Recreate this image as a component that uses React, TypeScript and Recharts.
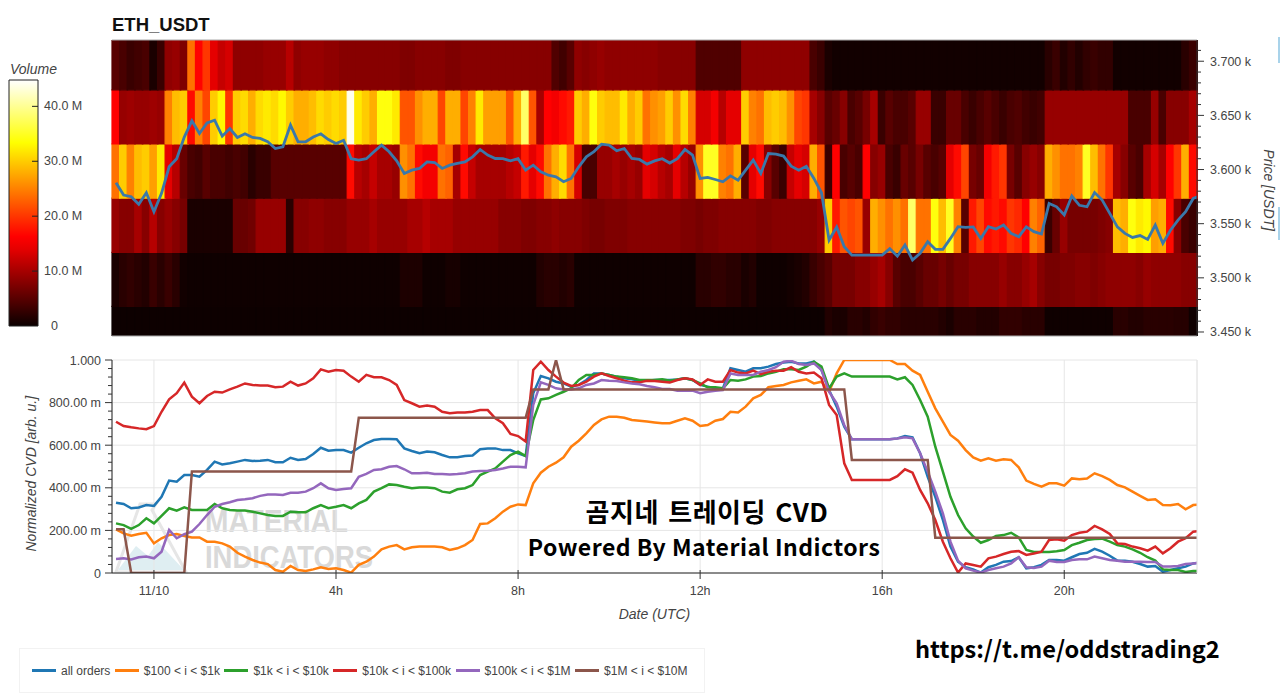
import React from "react";
import {
  Bar,
  BarChart,
  CartesianGrid,
  Cell,
  ComposedChart,
  Legend,
  Line,
  LineChart,
  ReferenceLine,
  XAxis,
  YAxis,
} from "recharts";

const FONT = "'Liberation Sans', Arial, sans-serif";
const TEXT = "#444";

// price bin edges of the heatmap, bottom to top (USDT)
const bandEdges = [3446.3, 3473.6, 3523.6, 3573.6, 3623.6, 3673.6, 3719.6];

// volume per 10 min column and price bin, in millions
const volBand0 = [
  .2,.2,.2,.2,.2,.2,.2,.2,.2,.2,
  .2,.2,.2,.2,.2,.2,.2,.2,.2,.2,
  .2,.2,.2,.2,.2,.2,.2,.2,.2,.2,
  .2,.2,.2,.2,.2,.2,.2,.2,.2,.2,
  .2,.2,.2,.2,.2,.2,.2,.2,.2,.2,
  .2,.2,.2,.2,.2,.2,.2,.2,.2,.2,
  .2,.2,.2,.2,.2,.2,.2,.2,.2,.2,
  .2,.2,.2,.2,.2,.2,.2,.2,.2,.2,
  .2,.2,.2,.2,.2,.2,.2,.2,.2,.2,
  .2,.2,.2,.2,1.5,1,1,2,2,1.5,
  2.5,3,2.5,2.5,2,2,2,2,2,1.5,
  1,2,2,2,1.5,1.5,1.5,2.5,2.5,2.5,
  2,2,2,.3,.3,.3,.3,.3,.3,.3,
  .3,.3,2,2,1.5,1.5,2,2,2,2,
  1.8,1.8,.3,
];
const volBand1 = [
  1,2,2.5,2,1.5,3,2,3,2,.5,
  .3,.3,.3,.3,.3,.3,.3,.3,.3,.3,
  .3,.3,.3,.3,.3,.3,.3,.3,.3,.3,
  .3,.3,.3,.3,.3,.3,.3,.3,1.2,1.2,
  1.2,.3,.3,.3,.8,.8,.3,.3,.3,.3,
  .3,.3,.3,.3,.3,.3,1.5,2,2,1.5,
  2,.3,.3,.3,.3,.3,.3,.3,.3,.3,
  .3,.3,.3,.3,.3,.3,.3,2,2,2.5,
  2.5,2,2,1,1.5,.3,.3,.3,.3,.6,
  1,1.5,3,4,5,7,7,7,8,8,
  9,10,8,5,4,4,5,6,6,7,
  6,7,7,8,8,8,8,9,8,8,
  9,10,8,7,7,7.5,7.5,8,8,7.5,
  8,8.5,8.5,8.5,8.5,8,9,8.5,8.5,8.5,
  8.5,8,8,
];
const volBand2 = [
  9,8,8,10,8,11,8,9,8,7,
  1,1,1,1,1,1,6,6,6.5,9,
  9,9,9,2,8,8,8.5,8.5,8,8,
  8,9,9,9,10,9,9,9,9,10,
  10,11,10,10,10,9,9,9,9,9,
  9,8,8,8,7.5,7.5,8,8,8.5,8,
  8,8,7.5,7,7,7.5,7.5,7.5,8,8,
  8,8,8,8,8,7.5,7.5,7,7.5,7.5,
  8,8,8,8,8,7.5,7.5,8,8,8,
  8,8,8,9,30,18,22,21,22,9,
  28,26,24,26,24,38,24,24,34,29,
  35,25,5,18,21,17,18,17,20,19,
  16,25,23,3,6,9,7,7,7,7,
  7.5,8,29,28,34,32,33,27,28,17,
  8,4,3,
];
const volBand3 = [
  24,30,25,29,30,27,32,14,11,6,
  4,3.5,5,4,4,3.5,4,3.5,2,3,
  3,5,5,5,5,5,5,5,5,5,
  5,17,11,10,12,10,10,9,26,24,
  17,15,15,24,23,10,17,12,10,10,
  10,10,11,12,18,14,17,24,28,31,
  24,13,4,4,9,9,10,9,10,9,
  14,13,11,10,14,11,9,26,35,35,
  25,24,28,5,14,17,8,5,3,12,
  14,13,28,22,3,16,4,5,4,16,
  8,9,4,3,6,5,7,5,4,5,
  14,17,21,7,6,15,18,20,7,5,
  8,9,8,28,26,24,24,25,35,29,
  24,20,10,8,5,4,10,13,10,16,
  20,28,17,
];
const volBand4 = [
  16,9,9.5,9,9,9.5,9,25,29,30,
  17,25,21,30,33,20,30,31,28,31,
  32,31,33,30,28,28,29,31,30,31,
  30,44,32,30,28,34,34,32,22,22,
  26,28,28,21,28,28,21,25,32,27,
  27,27,22,28,38,22,10,16,15,17,
  18,30,28,34,30,29,29,32,28,30,
  24,26,27,30,26,31,25,13,13,15,
  11,14,14,30,25,24,29,30,29,26,
  21,20,10,8,5,6,8,4,5,7,
  10,3,5,4,4,5,9,9,3,3,
  6,6,4,3,4,5,4,3,4,4.5,
  3.5,3,3.5,9,9,9,9,9,9,9,
  9,9,9,9,4,4,4,9,4,8,
  8,8,10,
];
const volBand5 = [
  5,4,3,3.5,4,1,3,8.5,9,7.5,
  24,16.5,20,14,12,13,8.5,8.5,8.5,8.5,
  9,9,9,11,8.5,9,9,9,8.5,8.5,
  8,8,8,8,8,8,8,8,7.5,7.5,
  8,8,8,8,7.5,7.5,8,8,8,8,
  8,8,8,8,8,8,8,8,4.5,3.5,
  5,8.5,8,8.5,9,8.5,8.5,8.5,8.5,8.5,
  8.5,8.5,8,8,8,8,8,4.5,4.5,4.5,
  4.5,4.5,4.5,8.5,8.5,8.5,8.5,8.5,8.5,8.5,
  8.5,8.5,4,3,1,.5,.5,.5,.5,.5,
  .5,.5,.5,.5,.5,.5,.5,.5,.5,.5,
  .5,.5,.5,.5,.5,.5,.5,.5,.5,.5,
  .5,.5,.5,2,3,1.5,2.5,1.5,2.5,3,
  2.5,2.5,.5,.5,.5,.5,.5,.5,.5,.5,
  .5,2,3,
];
const volumeBands = [volBand0, volBand1, volBand2, volBand3, volBand4, volBand5];

const price = [
  3587.8,3576.4,3574.9,3568,3578.5,3561,3578,3602.5,3610,3630,
  3645,3633.3,3643,3645.6,3630.8,3637.9,3629.6,3633,3629.6,3628.7,
  3625.6,3619.4,3621,3641,3625.6,3625.6,3630,3633,3627.7,3624,
  3627,3610,3608.7,3610,3616.4,3622.5,3616.4,3608,3596.4,3599.4,
  3601,3607,3606.5,3601,3604,3605.6,3607,3611.7,3618.5,3613.3,
  3610.2,3610,3608,3610,3599.4,3604,3598,3594.8,3593.3,3588.7,
  3591.8,3602.5,3611.7,3616.4,3623.4,3622.5,3617.3,3619.4,3610.2,3609.3,
  3605,3608,3610,3606,3610,3618.5,3613.3,3591.8,3592.7,3590.8,
  3588.7,3594.2,3590.2,3599.4,3608.7,3596.4,3614.8,3614.2,3612.4,3603.1,
  3599.4,3603,3591.8,3578.5,3534.9,3547,3528.7,3521,3521,3521,
  3521,3521,3527,3520,3530.3,3516.4,3522.6,3533.3,3526.3,3526.3,
  3536.4,3547.2,3546.6,3547,3536.4,3547.2,3545,3548.7,3541,3538,
  3547,3542.6,3540.4,3568.7,3565.6,3558,3575.5,3567,3565.6,3578.8,
  3571.8,3559.5,3547,3541,3537.3,3539,3535.5,3548.7,3531.8,3544,
  3553.3,3561,3573.3,3575.8,
];

// normalized CVD per size class, in milli units
const allOrders = [
  330,324,304,308,319,315,358,434,429,460,
  460,452,484,523,510,515,523,531,526,527,
  531,520,520,541,531,535,559,588,574,577,
  577,565,588,609,624,629,629,628,585,573,
  562,570,567,554,543,543,549,552,581,585,
  585,577,577,562,549,844,925,914,898,890,
  875,883,906,937,937,930,922,914,909,903,
  903,906,906,906,909,914,906,883,875,867,
  867,961,953,945,961,961,969,981,988,992,
  984,984,992,953,859,781,687,628,628,628,
  628,628,628,632,643,637,562,452,358,249,
  124,53,27,17,2,27,38,53,56,74,
  22,27,38,61,61,58,74,89,95,113,
  100,81,58,58,53,42,30,33,6,14,
  22,30,45,48,
];
const orders100to1k = [
  205,186,175,183,189,139,163,178,183,174,
  167,167,147,147,139,124,95,77,61,49,
  42,14,6,33,14,9,17,27,19,22,
  14,2,38,53,77,111,124,131,111,121,
  124,124,124,121,108,116,131,155,230,233,
  257,288,311,322,319,421,471,499,518,543,
  593,621,656,695,721,734,734,729,718,715,
  711,707,703,703,715,726,715,690,695,715,
  723,757,754,781,820,836,872,878,883,895,
  903,909,890,898,851,937,1000,1000,1000,1000,
  1000,1000,1000,981,981,950,930,851,773,711,
  648,621,577,543,527,538,527,534,531,496,
  434,418,405,421,421,410,444,440,444,468,
  455,437,413,402,382,362,343,346,319,318,
  324,299,319,322,
];
const orders1kto10k = [
  233,225,207,225,257,233,268,304,293,308,
  296,296,296,324,304,296,293,293,288,280,
  272,268,268,288,285,285,304,319,304,311,
  319,304,327,343,382,398,416,413,405,398,
  401,401,398,382,377,393,398,413,460,476,
  491,523,554,570,549,718,815,820,836,851,
  867,906,930,930,937,930,922,919,914,906,
  906,906,909,903,909,914,906,890,872,872,
  867,906,903,909,922,925,937,945,956,956,
  953,969,992,969,867,922,937,922,922,922,
  922,922,922,909,919,883,812,734,593,476,
  358,272,210,171,142,155,174,178,189,167,
  108,99,99,99,102,108,131,142,155,160,
  161,147,131,124,111,95,74,58,17,14,
  14,5,9,9,
];
const orders10kto100k = [
  710,690,684,679,675,690,757,815,844,894,
  828,797,831,851,847,862,875,890,883,880,
  880,872,875,898,880,890,914,956,945,953,
  950,922,898,930,919,919,906,883,812,797,
  781,786,781,757,750,753,753,757,765,765,
  726,703,653,643,617,953,992,953,922,894,
  878,883,898,922,937,925,914,903,895,895,
  903,901,898,894,906,914,909,883,909,898,
  898,953,941,937,950,934,945,950,950,966,
  945,937,941,914,789,742,515,437,437,437,
  437,437,437,455,487,471,390,327,249,147,
  69,2,45,38,30,69,77,89,100,103,
  85,92,100,155,158,152,178,189,194,221,
  205,183,139,136,124,116,105,124,92,116,
  147,163,194,197,
];
const orders100kto1m = [
  66,69,64,74,77,69,100,202,163,182,
  194,230,272,311,324,332,343,346,351,362,
  369,369,366,377,377,382,398,421,398,390,
  394,398,452,465,484,487,499,502,487,468,
  468,471,465,465,463,465,468,476,479,480,
  484,491,499,499,496,789,895,883,867,862,
  862,867,883,890,906,903,901,895,890,886,
  878,872,864,864,856,856,856,844,851,856,
  859,937,930,930,930,945,953,966,992,997,
  981,977,984,953,851,797,695,628,628,628,
  628,628,628,631,637,632,562,476,382,280,
  147,58,22,11,2,14,22,30,45,74,
  27,23,30,58,52,52,61,64,64,77,
  69,61,58,53,53,53,52,52,30,30,
  33,42,45,48,
];
const orders1mto10m = [
  205,205,0,0,0,0,0,0,0,0,
  476,476,476,476,476,476,476,476,476,476,
  476,476,476,476,476,476,476,476,476,476,
  476,476,729,729,729,729,729,729,729,729,
  729,729,729,729,729,729,729,729,729,729,
  729,729,729,729,729,862,862,862,1000,862,
  862,862,862,862,862,862,862,862,862,862,
  862,862,862,862,862,862,862,862,862,862,
  862,862,862,862,862,862,862,862,862,862,
  862,862,862,862,862,862,862,531,531,531,
  531,531,531,531,531,531,531,531,166,166,
  166,166,166,166,166,166,166,166,166,166,
  166,166,166,166,166,166,166,166,166,166,
  166,166,166,166,166,166,166,166,166,166,
  166,166,166,166,
];

const cvdSeries = [
  { key: "all", name: "all orders", color: "#1f77b4", values: allOrders },
  { key: "o100", name: "$100 < i < $1k", color: "#ff7f0e", values: orders100to1k },
  { key: "o1k", name: "$1k < i < $10k", color: "#2ca02c", values: orders1kto10k },
  { key: "o10k", name: "$10k < i < $100k", color: "#d62728", values: orders10kto100k },
  { key: "o100k", name: "$100k < i < $1M", color: "#9467bd", values: orders100kto1m },
  { key: "o1m", name: "$1M < i < $10M", color: "#8c564b", values: orders1mto10m },
];

const timeDomain = [-0.53, 142.5];
const timeTickIndexes = [5, 29, 53, 77, 101, 125];
const timeTickLabels = ["11/10", "4h", "8h", "12h", "16h", "20h"];
const cvdTicks = [0,40,80,120,160,200,240,280,320,360,400,440,480,520,560,600,640,680,720,760,800,840,880,920,960,1000];
const cvdMajor = [0, 200, 400, 600, 800, 1000];
const priceTicks = [3450,3460,3470,3480,3490,3500,3510,3520,3530,3540,3550,3560,3570,3580,3590,3600,3610,3620,3630,3640,3650,3660,3670,3680,3690,3700,3710];
const volumeTicks = [0, 10, 20, 30, 40];
const VOLUME_MAX = 44.8;

// matplotlib/bokeh "hot" palette
const hotColor = (v: number) => {
  const t = v / VOLUME_MAX;
  const clamp = (n: number) => Math.round(255 * Math.max(0, Math.min(1, n)));
  return `rgb(${clamp(0.04 + t / 0.365)},${clamp((t - 0.365) / 0.381)},${clamp((t - 0.746) / 0.254)})`;
};

const heatRows = volBand0.map((_, i) => {
  const row: any = { idx: i, base: bandEdges[0] };
  volumeBands.forEach((_, b) => {
    row[`band${b}`] = bandEdges[b + 1] - bandEdges[b];
  });
  return row;
});

const priceRows = price.map((p, i) => ({ t: i, price: p }));

const cvdRows = allOrders.map((_, i) => {
  const row: any = { idx: i };
  cvdSeries.forEach((s) => {
    row[s.key] = s.values[i];
  });
  return row;
});

const gradientStops = [0, 2, 4, 6, 8, 10, 12, 14, 16.3, 20, 24, 28, 33.4, 36, 40, 44.8];

const PriceTick = ({ x, payload }: any) => {
  const major = payload.value % 50 === 0;
  const y = payload.coordinate;
  return (
    <g>
      <line x1={x} x2={x + (major ? 7 : 4)} y1={y} y2={y} stroke="#333" />
      {major && (
        <text x={x + 13} y={y + 4.5} fill={TEXT} fontSize={12.5} fontFamily={FONT}>
          {(payload.value / 1000).toFixed(3)} k
        </text>
      )}
    </g>
  );
};

const CvdTick = ({ x, payload }: any) => {
  const major = cvdMajor.includes(payload.value);
  const y = payload.coordinate;
  const v = payload.value;
  const label = v === 1000 ? "1.000" : v === 0 ? "0" : `${v}.00 m`;
  return (
    <g>
      <line x1={x - (major ? 7 : 4)} x2={x} y1={y} y2={y} stroke="#333" />
      {major && (
        <text x={x - 11} y={y + 4.5} textAnchor="end" fill={TEXT} fontSize={12.5} fontFamily={FONT}>
          {label}
        </text>
      )}
    </g>
  );
};

const TimeTick = ({ x, y, payload }: any) => (
  <g>
    <line x1={x} x2={x} y1={y - 3} y2={y + 6} stroke="#333" />
    <text x={x} y={y + 22} textAnchor="middle" fill={TEXT} fontSize={12.5} fontFamily={FONT}>
      {timeTickLabels[timeTickIndexes.indexOf(payload.value)]}
    </text>
  </g>
);

const VolumeTick = ({ x, payload }: any) => {
  const y = payload.coordinate;
  return (
    <g>
      {payload.value > 0 && <line x1={x - 6} x2={x} y1={y} y2={y} stroke="#222" />}
      <text x={payload.value > 0 ? x + 6 : x + 13} y={y + 4} fill={TEXT} fontSize={12.5} fontFamily={FONT}>
        {payload.value > 0 ? `${payload.value.toFixed(1)} M` : "0"}
      </text>
    </g>
  );
};

const renderLegend = () => (
  <div
    style={{
      display: "flex",
      alignItems: "center",
      height: 45,
      boxSizing: "border-box",
      border: "1px solid #f2f2f2",
      paddingLeft: 12,
      fontFamily: FONT,
      fontSize: 12,
      color: TEXT,
      whiteSpace: "nowrap",
    }}
  >
    {cvdSeries.map((s) => (
      <span key={s.key} style={{ display: "flex", alignItems: "center", marginRight: 4.5 }}>
        <span style={{ width: 24, height: 2.5, background: s.color, marginRight: 5 }} />
        {s.name}
      </span>
    ))}
  </div>
);

const App = () => {
  return (
    <div style={{ position: "absolute", left: 0, top: 0, width: 1280, height: 693, overflow: "hidden", background: "#fff" }}>
      <div style={{ position: "absolute", left: 112, top: 14, fontFamily: FONT, fontWeight: 700, fontSize: 18.5, color: "#111" }}>
        ETH_USDT
      </div>

      {/* colorbar */}
      <div style={{ position: "absolute", left: 10, top: 61, fontFamily: FONT, fontStyle: "italic", fontSize: 14, color: TEXT }}>
        Volume
      </div>
      <div style={{ position: "absolute", left: 0, top: 70 }}>
        <BarChart width={100} height={266} data={[{ name: "Volume", value: VOLUME_MAX }]} margin={{ top: 10, right: 0, bottom: 10, left: 9 }} barCategoryGap={0}>
          <defs>
            <linearGradient id="hotGrad" x1="0" y1="1" x2="0" y2="0">
              {gradientStops.map((v) => (
                <stop key={v} offset={v / VOLUME_MAX} stopColor={hotColor(v)} />
              ))}
            </linearGradient>
          </defs>
          <XAxis dataKey="name" hide />
          <YAxis
            orientation="right"
            width={62}
            domain={[0, VOLUME_MAX]}
            ticks={volumeTicks}
            interval={0}
            axisLine={false}
            tickLine={false}
            tickSize={0}
            tickMargin={0}
            tick={<VolumeTick />}
          />
          <Bar dataKey="value" fill="url(#hotGrad)" stroke="#222" isAnimationActive={false} />
        </BarChart>
      </div>

      {/* heatmap with price line */}
      <div style={{ position: "absolute", left: 0, top: 0 }}>
        <ComposedChart width={1280} height={345} data={heatRows} margin={{ top: 40, right: 0, bottom: 9, left: 112 }} barGap={0} barCategoryGap={0}>
          <XAxis dataKey="idx" hide />
          <XAxis xAxisId="t" dataKey="t" type="number" domain={timeDomain} allowDataOverflow hide />
          <YAxis
            orientation="right"
            width={83}
            domain={[bandEdges[0], bandEdges[6]]}
            allowDataOverflow
            ticks={priceTicks}
            interval={0}
            stroke="#333"
            tickLine={false}
            tickSize={0}
            tickMargin={0}
            tick={<PriceTick />}
            label={{
              value: "Price [USDT]",
              angle: 90,
              position: "insideRight",
              dx: -6,
              dy: 43,
              fill: TEXT,
              fontSize: 14,
              fontStyle: "italic",
              fontFamily: FONT,
            }}
          />
          <Bar dataKey="base" stackId="vol" fill="none" isAnimationActive={false} />
          {volumeBands.map((vals, b) => (
            <Bar key={b} dataKey={`band${b}`} stackId="vol" isAnimationActive={false}>
              {vals.map((v, i) => (
                <Cell key={i} fill={hotColor(v)} stroke={hotColor(v)} strokeWidth={1.2} />
              ))}
            </Bar>
          ))}
          <ReferenceLine y={bandEdges[6]} stroke="#aaa" />
          <ReferenceLine y={bandEdges[0]} stroke="#aaa" />
          <Line xAxisId="t" data={priceRows} dataKey="price" type="linear" stroke="#3a78aa" strokeWidth={2.8} dot={false} isAnimationActive={false} />
        </ComposedChart>
      </div>

      {/* watermark sits under the CVD chart */}
      <svg width={300} height={80} style={{ position: "absolute", left: 112, top: 500 }}>
        <path d="M28 4 L44 4 L40 10 L74 72 L4 72 Z" fill="none" stroke="#e6e6e6" strokeWidth={3} />
        <path d="M6 70 L24 46 L36 56 L46 42 L72 70 Z" fill="#dfeef2" />
        <text x={93} y={32} fontFamily={FONT} fontWeight={700} fontSize={31} fill="#d9d9d9" textLength={143} lengthAdjust="spacingAndGlyphs">
          MATERIAL
        </text>
        <text x={93} y={68} fontFamily={FONT} fontWeight={700} fontSize={31} fill="#d9d9d9" textLength={168} lengthAdjust="spacingAndGlyphs">
          INDICATORS
        </text>
      </svg>

      {/* normalized CVD */}
      <div style={{ position: "absolute", left: 0, top: 350 }}>
        <LineChart width={1280} height={343} data={cvdRows} margin={{ top: 10, right: 0, bottom: 0, left: 0 }}>
          <CartesianGrid stroke="#e6e6e6" horizontalValues={cvdMajor} />
          <XAxis
            dataKey="idx"
            type="number"
            domain={timeDomain}
            allowDataOverflow
            ticks={timeTickIndexes}
            interval={0}
            height={75}
            stroke="#222"
            tickLine={false}
            tickSize={0}
            tickMargin={0}
            tick={<TimeTick />}
            label={{
              value: "Date (UTC)",
              position: "insideTop",
              dy: 31,
              fill: TEXT,
              fontSize: 14,
              fontStyle: "italic",
              fontFamily: FONT,
            }}
          />
          <YAxis
            width={112}
            domain={[0, 1000]}
            ticks={cvdTicks}
            interval={0}
            allowDataOverflow
            stroke="#222"
            tickLine={false}
            tickSize={0}
            tickMargin={0}
            tick={<CvdTick />}
            label={{
              value: "Normalized CVD [arb. u.]",
              angle: -90,
              position: "insideLeft",
              dx: 26,
              dy: 85,
              fill: TEXT,
              fontSize: 14,
              fontStyle: "italic",
              fontFamily: FONT,
            }}
          />
          <YAxis yAxisId="edge" orientation="right" width={83} tick={false} tickLine={false} stroke="#e6e6e6" />
          {cvdSeries.map((s) => (
            <Line key={s.key} dataKey={s.key} name={s.name} type="linear" stroke={s.color} strokeWidth={2.5} dot={false} isAnimationActive={false} />
          ))}
          <Legend content={renderLegend} wrapperStyle={{ left: 19, bottom: 0, width: 686, height: 45 }} />
        </LineChart>
      </div>

      {/* text pasted on the picture */}
      <div style={{ position: "absolute", left: 507, width: 400, top: 494, textAlign: "center", fontFamily: "'Noto Sans CJK KR'", fontWeight: 700, fontSize: 26, letterSpacing: 0.5, wordSpacing: 3, lineHeight: "34px", color: "#000", whiteSpace: "nowrap" }}>
        곰지네 트레이딩 CVD
      </div>
      <div style={{ position: "absolute", left: 504, width: 400, top: 530, textAlign: "center", fontFamily: "'Noto Sans CJK KR'", fontWeight: 700, fontSize: 23, letterSpacing: 0.5, lineHeight: "32px", color: "#000", whiteSpace: "nowrap" }}>
        Powered By Material Indictors
      </div>
      <div style={{ position: "absolute", left: 915, top: 632, fontFamily: "'Noto Sans CJK KR'", fontWeight: 700, fontSize: 23.6, lineHeight: "32px", color: "#000", whiteSpace: "nowrap" }}>
        https://t.me/oddstrading2
      </div>

      {/* cropped toolbar buttons at the right edge */}
      <div style={{ position: "absolute", left: 1278, top: 37, width: 2, height: 26, background: "#a9d3ea" }} />
      <div style={{ position: "absolute", left: 1278, top: 207, width: 2, height: 33, background: "#a9d3ea" }} />
    </div>
  );
};

export default App;
